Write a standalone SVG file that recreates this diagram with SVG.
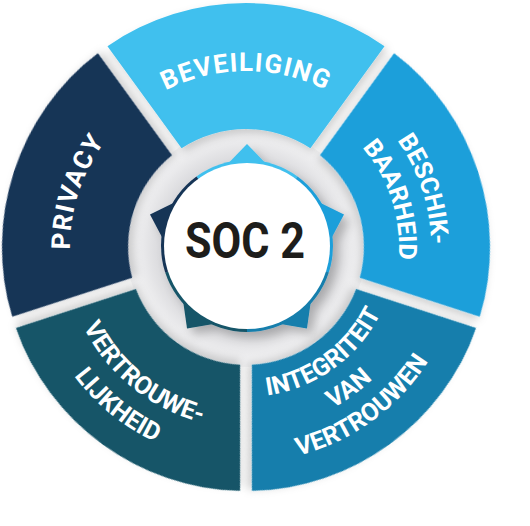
<svg xmlns="http://www.w3.org/2000/svg" xmlns:xlink="http://www.w3.org/1999/xlink" width="530" height="526" viewBox="0 0 530 526">
<style>
.lbl{font-family:Roboto,"Liberation Sans",sans-serif;font-weight:700;fill:#ffffff;text-anchor:middle}
.wide{font-size:26px;letter-spacing:1.2px}
.cond{font-size:25px}
.soc{font-family:Roboto,"Liberation Sans",sans-serif;font-weight:700;font-size:50px;fill:#1d1d1b;text-anchor:middle}
</style>
<defs>
  <filter id="ds" x="-20%" y="-20%" width="140%" height="140%">
    <feDropShadow dx="3" dy="4" stdDeviation="4" flood-color="#000" flood-opacity="0.18"/>
  </filter>
  <filter id="ds2" x="-30%" y="-30%" width="160%" height="160%">
    <feDropShadow dx="6" dy="6" stdDeviation="5" flood-color="#000" flood-opacity="0.22"/>
  </filter>
  <radialGradient id="hole" gradientUnits="userSpaceOnUse" cx="246" cy="247" r="120">
    <stop offset="0" stop-color="#d6d6d9"/>
    <stop offset="0.72" stop-color="#dadadd"/>
    <stop offset="0.85" stop-color="#e8e8ea"/>
    <stop offset="1" stop-color="#f6f6f7"/>
  </radialGradient>
  <path id="seg" d="M107.47,46.13 A244,244 0 0 1 384.53,46.13 L310.41,148.13 A118,118 0 0 0 181.59,148.13 Z"/>
  <path id="wedge" d="M247,246 L196.45,176.42 A86,86 0 0 1 297.55,176.42 Z"/>
  <path id="tip" d="M247,144 L279,177 L215,177 Z"/>
  <path id="a176" d="M93.58,159 A176,176 0 0 1 398.42,159"/>
  <path id="a185" d="M85.79,154.5 A185,185 0 0 1 406.21,154.5"/>
  <path id="a153" d="M113.50,170.5 A153,153 0 0 1 378.50,170.5"/>
  <path id="b181" d="M89.25,337.5 A181,181 0 0 0 402.75,337.5"/>
  <path id="b215" d="M59.81,354.5 A215,215 0 0 0 432.19,354.5"/>
  <path id="b150" d="M116.1,322 A150,150 0 0 0 375.9,322"/>
  <path id="b183" d="M87.52,338.5 A183,183 0 0 0 404.48,338.5"/>
  <path id="b215r" d="M59.81,354.5 A215,215 0 0 0 432.19,354.5"/>
</defs>
<rect width="530" height="526" fill="#ffffff"/>
<circle id="hub-bg" cx="246" cy="247" r="120" fill="url(#hole)"/>

<g id="beveiliging">
  <use xlink:href="#seg" href="#seg" fill="#41C0EE" filter="url(#ds)"/>
  <text class="lbl wide"><textPath xlink:href="#a176" href="#a176" startOffset="50%">BEVEILIGING</textPath></text>
</g>
<g id="beschikbaarheid" transform="rotate(72 246 247)">
  <use xlink:href="#seg" href="#seg" fill="#1E9FDA" filter="url(#ds)"/>
  <text class="lbl cond"><textPath xlink:href="#a185" href="#a185" startOffset="50%">BESCHIK-</textPath></text>
  <text class="lbl cond"><textPath xlink:href="#a153" href="#a153" startOffset="50%">BAARHEID</textPath></text>
</g>
<g id="integriteit" transform="rotate(144 246 247)">
  <use xlink:href="#seg" href="#seg" fill="#137EAC" filter="url(#ds)"/>
</g>
<g id="integriteit-label" transform="rotate(-36 246 247)">
  <text class="lbl cond"><textPath xlink:href="#b150" href="#b150" startOffset="50%">INTEGRITEIT</textPath></text>
  <text class="lbl cond"><textPath xlink:href="#b183" href="#b183" startOffset="50%">VAN</textPath></text>
  <text class="lbl cond"><textPath xlink:href="#b215r" href="#b215r" startOffset="50%">VERTROUWEN</textPath></text>
</g>
<g id="vertrouwelijkheid" transform="rotate(216 246 247)">
  <use xlink:href="#seg" href="#seg" fill="#135468" filter="url(#ds)"/>
</g>
<g id="vertrouwelijkheid-label" transform="rotate(39 246 247)">
  <text class="lbl cond"><textPath xlink:href="#b181" href="#b181" startOffset="50%">VERTROUWE-</textPath></text>
  <text class="lbl cond"><textPath xlink:href="#b215" href="#b215" startOffset="50%">LIJKHEID</textPath></text>
</g>
<g id="privacy" transform="rotate(-72 246 247)">
  <use xlink:href="#seg" href="#seg" fill="#163457" filter="url(#ds)"/>
  <text class="lbl wide"><textPath xlink:href="#a176" href="#a176" startOffset="50%">PRIVACY</textPath></text>
</g>

<g id="soc2">
  <g filter="url(#ds2)">
    <g fill="#41C0EE"><use xlink:href="#wedge" href="#wedge"/><use xlink:href="#tip" href="#tip"/></g>
    <g fill="#1E9FDA" transform="rotate(72 247 246)"><use xlink:href="#wedge" href="#wedge"/><use xlink:href="#tip" href="#tip"/></g>
    <g fill="#137EAC" transform="rotate(144 247 246)"><use xlink:href="#wedge" href="#wedge"/><use xlink:href="#tip" href="#tip"/></g>
    <g fill="#135468" transform="rotate(216 247 246)"><use xlink:href="#wedge" href="#wedge"/><use xlink:href="#tip" href="#tip"/></g>
    <g fill="#163457" transform="rotate(288 247 246)"><use xlink:href="#wedge" href="#wedge"/><use xlink:href="#tip" href="#tip"/></g>
    <circle cx="247" cy="246" r="83" fill="#ffffff"/>
  </g>
  <text class="soc" x="245" y="258" textLength="120" lengthAdjust="spacingAndGlyphs">SOC 2</text>
</g>
</svg>
